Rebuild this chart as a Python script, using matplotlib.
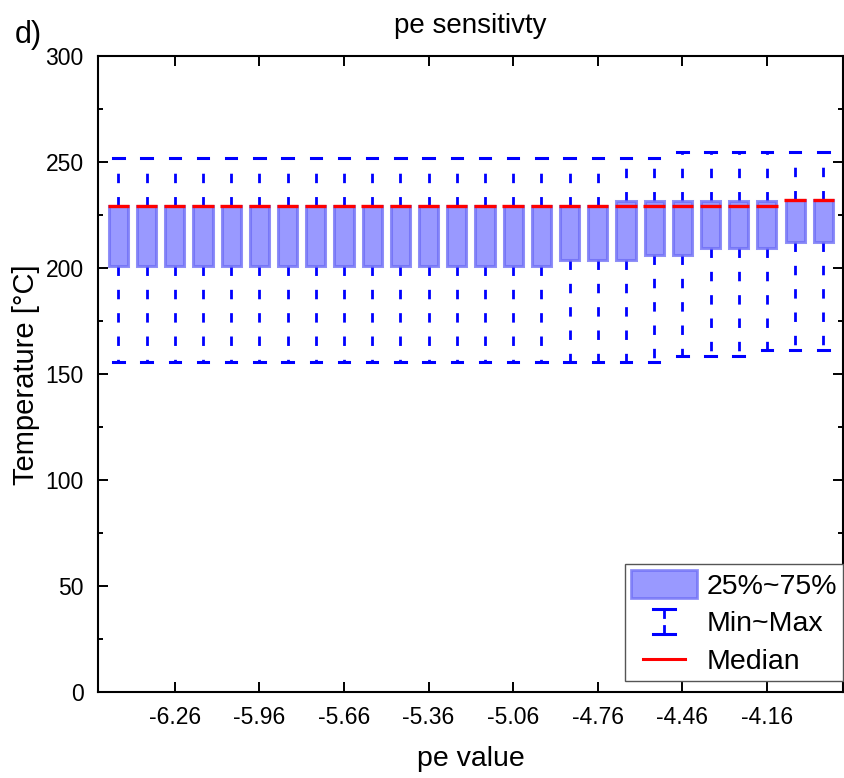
import matplotlib
matplotlib.use("Agg")
import matplotlib.pyplot as plt
from matplotlib.lines import Line2D
from matplotlib.patches import Patch
from matplotlib.legend_handler import HandlerBase

plt.rcParams['font.family'] = ['Liberation Sans', 'DejaVu Sans']

# pe values (one box each)
pe_values = [-6.46, -6.36, -6.26, -6.16, -6.06, -5.96, -5.86, -5.76, -5.66,
             -5.56, -5.46, -5.36, -5.26, -5.16, -5.06, -4.96, -4.86, -4.76,
             -4.66, -4.56, -4.46, -4.36, -4.26, -4.16, -4.06, -3.96]
t_min = [155.9] * 20 + [158.6] * 3 + [161.5] * 3
t_q1 = [201.1] * 16 + [203.9] * 3 + [206.3] * 2 + [209.4] * 3 + [212.5] * 2
t_median = [229.5] * 24 + [232.2] * 2
t_q3 = [229.5] * 18 + [232.0] * 6 + [232.2] * 2
t_max = [252.0] * 20 + [254.7] * 6

x_ticks = [-6.26, -5.96, -5.66, -5.36, -5.06, -4.76, -4.46, -4.16]
x_ticklabels = ['-6.26', '-5.96', '-5.66', '-5.36', '-5.06', '-4.76', '-4.46', '-4.16']

box_face = '#9999ff'
box_edge = (0.42, 0.42, 0.96, 0.75)
whisk_col = '#0000ff'
dash = (0, (3.4, 5.0))


class WhiskerHandler(HandlerBase):
    def create_artists(self, legend, orig_handle, xdescent, ydescent,
                       width, height, fontsize, trans):
        cx = -xdescent + width / 2
        y0 = -ydescent + 1
        y1 = -ydescent + height - 1
        hw = 8
        stem = 5.5
        arts = [
            Line2D([cx - hw, cx + hw], [y1, y1], color=whisk_col, lw=2.2),
            Line2D([cx, cx], [y1, y1 - stem], color=whisk_col, lw=2),
            Line2D([cx - hw, cx + hw], [y0, y0], color=whisk_col, lw=2.2),
            Line2D([cx, cx], [y0, y0 + stem], color=whisk_col, lw=2),
        ]
        for a in arts:
            a.set_transform(trans)
        return arts


class MedianHandler(HandlerBase):
    def create_artists(self, legend, orig_handle, xdescent, ydescent,
                       width, height, fontsize, trans):
        cx = -xdescent + width / 2
        cy = -ydescent + height / 2
        ln = Line2D([cx - 15, cx + 15], [cy, cy], color='red', lw=2.2)
        ln.set_transform(trans)
        return [ln]


fig = plt.figure(figsize=(8.45, 7.78), dpi=100)
ax = fig.add_axes([0.1154, 0.1102, 0.8826, 0.8172])

box_w = 0.068
cap_w = 0.037
for x, mn, q1, md, q3, mx in zip(pe_values, t_min, t_q1, t_median, t_q3, t_max):
    # whiskers, drawn outward from the box so the dashes start at the box edge
    ax.plot([x, x], [q1, mn], color=whisk_col, lw=2, linestyle=dash, zorder=1)
    ax.plot([x, x], [q3, mx], color=whisk_col, lw=2, linestyle=dash, zorder=1)
    ax.plot([x - cap_w / 2, x + cap_w / 2], [mn, mn], color=whisk_col, lw=2.2, zorder=1)
    ax.plot([x - cap_w / 2, x + cap_w / 2], [mx, mx], color=whisk_col, lw=2.2, zorder=1)

heights = [q3 - q1 for q1, q3 in zip(t_q1, t_q3)]
ax.bar(pe_values, heights, bottom=t_q1, width=box_w, color=box_face,
       edgecolor=box_edge, linewidth=2.2, zorder=2)
for x, md in zip(pe_values, t_median):
    ax.plot([x - box_w / 2 - 0.004, x + box_w / 2 + 0.004], [md, md],
            color='red', lw=2.4, zorder=3, solid_capstyle='butt')

ax.set_xlim(-6.534, -3.889)
ax.set_ylim(0, 300)
ax.set_xticks(x_ticks)
ax.set_xticklabels(x_ticklabels)
ax.set_yticks([0, 50, 100, 150, 200, 250, 300])
ax.set_yticks([25, 75, 125, 175, 225, 275], minor=True)
ax.tick_params(axis='both', which='major', direction='in', length=7.2, width=1.4,
               labelsize=16.5, pad=10, top=True, right=True)
ax.tick_params(axis='y', which='minor', direction='in', length=3.6, width=1.4,
               right=True)
for sp in ax.spines.values():
    sp.set_linewidth(1.5)

ax.set_xlabel('pe value', fontsize=20.5, labelpad=12)
ax.set_ylabel('Temperature [°C]', fontsize=21, labelpad=4)
ax.set_title('pe sensitivty', fontsize=20, pad=17)
fig.text(0.017, 0.955, 'd)', fontsize=22, va='center', ha='left')

h_box = Patch(facecolor=box_face, edgecolor=box_edge, linewidth=2)
h_whisk = Line2D([], [])
h_med = Line2D([], [])
leg = ax.legend([h_box, h_whisk, h_med], ['25%~75%', 'Min~Max', 'Median'],
                handler_map={h_whisk: WhiskerHandler(), h_med: MedianHandler()},
                loc='lower right', bbox_to_anchor=(1.0, 0.018), borderaxespad=0,
                fontsize=20.5, handlelength=2.3, handleheight=1.12,
                handletextpad=0.35, labelspacing=0.28, borderpad=0.22,
                fancybox=False, framealpha=1, edgecolor='#555555')
leg.get_frame().set_linewidth(1.0)

fig.savefig('out.png', dpi=100)
